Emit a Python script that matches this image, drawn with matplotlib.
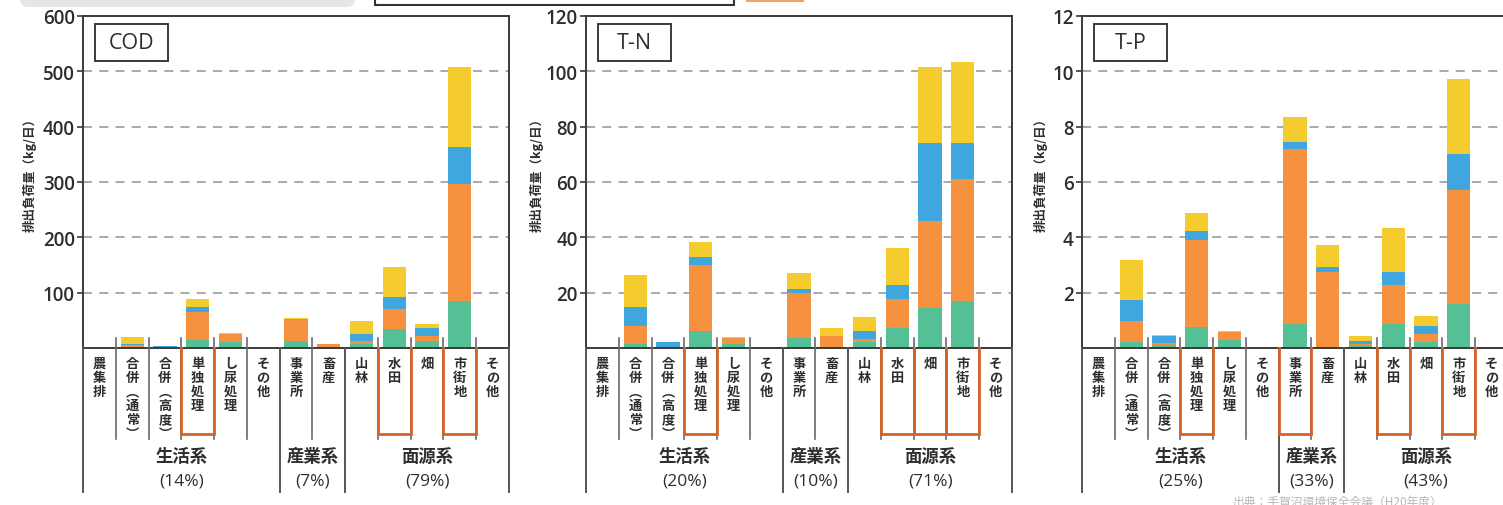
import numpy as np
import matplotlib
matplotlib.use("Agg")
import matplotlib.pyplot as plt
from matplotlib.patches import Rectangle, FancyBboxPatch

plt.rcParams['font.family'] = ['Noto Sans CJK JP', 'DejaVu Sans']

# ---- data -------------------------------------------------------------
categories = ["農集排", "合併（通常）", "合併（高度）", "単独処理", "し尿処理", "その他",
              "事業所", "畜産", "山林", "水田", "畑", "市街地", "その他"]
groups = ["生活系", "産業系", "面源系"]
group_spans = [(0, 6), (6, 8), (8, 13)]

cod_green  = [0, 1, 0.5, 15, 10, 0, 12, 0.0, 8, 35, 12, 85, 0.0]
cod_orange = [0, 4, 0.5, 50, 16, 0, 41, 8.0, 4, 35, 10, 211, 2.0]
cod_blue   = [0, 2, 2.0, 10, 0, 0, 0, 0.0, 14, 22, 14, 67, 0.0]
cod_yellow = [0, 13, 1.0, 13, 2, 0, 2, 0.0, 22, 54, 7, 145, 0.0]
cod_share  = ["(14%)", "(7%)", "(79%)"]
cod_marked = [3, 9, 11]

tn_green  = [0, 1.5, 0.3, 6.3, 1.5, 0, 3.5, 0.3, 2.0, 7.2, 14.3, 17.1, 0.0]
tn_orange = [0, 6.5, 0.2, 23.7, 2.0, 0, 16.4, 4.2, 1.3, 10.5, 31.7, 44.0, 0.5]
tn_blue   = [0, 7.0, 1.8, 2.8, 0.0, 0, 1.4, 0.0, 2.7, 5.1, 28.1, 13.0, 0.0]
tn_yellow = [0, 11.5, 0.0, 5.4, 0.6, 0, 5.8, 2.6, 5.3, 13.3, 27.3, 29.4, 0.0]
tn_share  = ["(20%)", "(10%)", "(71%)"]
tn_marked = [3, 9, 10, 11]

tp_green  = [0, 0.23, 0.12, 0.75, 0.30, 0, 0.87, 0.05, 0.10, 0.87, 0.20, 1.59, 0.0]
tp_orange = [0, 0.76, 0.06, 3.15, 0.28, 0, 6.32, 2.68, 0.05, 1.41, 0.31, 4.13, 0.05]
tp_blue   = [0, 0.74, 0.24, 0.34, 0.00, 0, 0.24, 0.21, 0.12, 0.48, 0.27, 1.29, 0.0]
tp_yellow = [0, 1.45, 0.06, 0.63, 0.05, 0, 0.91, 0.78, 0.15, 1.57, 0.37, 2.71, 0.0]
tp_share  = ["(25%)", "(33%)", "(43%)"]
tp_marked = [3, 6, 9, 11]

# ---- styling ----------------------------------------------------------
W, H = 1503, 506
colors = ["#55bf96", "#f5913f", "#40a6de", "#f5cc2d"]
dark = "#3a3a3a"
text_col = "#2e2e2e"
mark_color = "#d4622a"

fig = plt.figure(figsize=(W / 100, H / 100), dpi=100)

# overlay in pixel coordinates for free-standing decorations
over = fig.add_axes([0, 0, 1, 1], zorder=-5)
over.set_xlim(0, W)
over.set_ylim(H, 0)
over.axis("off")

over.add_patch(FancyBboxPatch((20, -20), 335, 28,
                              boxstyle="round,pad=0,rounding_size=8",
                              fc="#e6e6e6", ec="none"))
over.add_patch(Rectangle((375, -10), 359, 16, fill=False, ec="#333333", lw=1.5))
over.add_patch(Rectangle((746, -10), 58, 13, fc="#f4a060", ec="none"))
over.text(1338, 502, "出典：手賀沼環境保全会議（H20年度）", fontsize=8.5,
          color="#b8b8b8", ha="center", va="center")


def vertical(label):
    return [c.replace("（", "︵").replace("）", "︶") for c in label]


panels = [
    ("COD", 83, 600, 100, [cod_green, cod_orange, cod_blue, cod_yellow],
     cod_share, cod_marked, 30),
    ("T-N", 586, 120, 20, [tn_green, tn_orange, tn_blue, tn_yellow],
     tn_share, tn_marked, 537),
    ("T-P", 1082, 12, 2, [tp_green, tp_orange, tp_blue, tp_yellow],
     tp_share, tp_marked, 1041),
]

AX_TOP, AX_BOT, AX_W = 17, 349, 426
AX_H = AX_BOT - AX_TOP
n = len(categories)
x = np.arange(n) + 0.5


def fy(px_below):
    """axes-fraction y for a distance in pixels below the zero line"""
    return -px_below / AX_H


for name, left, ymax, step, layers, share, marked, ylab_x in panels:
    ax = fig.add_axes([left / W, 1 - AX_BOT / H, AX_W / W, AX_H / H])
    ax.set_xlim(0, n)
    ax.set_ylim(0, ymax)
    ax.set_axisbelow(True)

    bottom = np.zeros(n)
    for vals, col in zip(layers, colors):
        vals = np.asarray(vals, dtype=float)
        ax.bar(x, vals, 0.71, bottom=bottom, color=col, lw=0, zorder=2)
        bottom += vals

    ticks = np.arange(step, ymax + step / 2, step)
    ax.set_yticks(ticks, [f"{t:g}" for t in ticks], fontsize=13.5,
                  fontfamily="Open Sans", fontweight="semibold", color=text_col)
    ax.set_xticks([])
    ax.tick_params(axis="y", direction="out", length=4, width=1.2,
                   color=dark, pad=2)
    ax.yaxis.grid(True, linestyle=(0, (5, 4)), color="#a3a3a3", lw=1.3)
    for s in ax.spines.values():
        s.set_color(dark)
        s.set_linewidth(1.4)

    tr = ax.get_xaxis_transform()
    # separators below the axis
    for i in range(n + 1):
        major = i in (0, 6, 8, n)
        y_end = fy(144) if major else fy(91)
        y_start = 0 if major else 10 / AX_H
        ax.plot([i, i], [y_start, y_end], transform=tr, clip_on=False,
                color="#555555" if major else "#6a6a6a",
                lw=1.4 if major else 1.2, zorder=3)

    # highlighted categories
    for i in marked:
        ax.plot([i, i, i + 1, i + 1], [0, fy(86), fy(86), 0], transform=tr,
                clip_on=False, color=mark_color, lw=2.0, zorder=4,
                solid_joinstyle="miter")

    # category names, written top to bottom
    for i, lab in enumerate(categories):
        for k, ch in enumerate(vertical(lab)):
            ax.text(i + 0.5, fy(15 + 14 * k), ch, transform=tr, ha="center",
                    va="center", fontsize=9.5, fontweight="bold",
                    color=text_col, clip_on=False)

    # group names and shares
    for (a, b), g, sh in zip(group_spans, groups, share):
        cx = (a + b) / 2
        ax.text(cx, fy(108), g, transform=tr, ha="center", va="center",
                fontsize=12.5, fontweight="bold", color=text_col)
        ax.text(cx, fy(133), sh, transform=tr, ha="center", va="center",
                fontsize=12.5, color=text_col,
                fontfamily=["Open Sans", "Noto Sans CJK JP"])

    # panel title box
    bx0, bx1 = 12 / AX_W, 85 / AX_W
    by0, by1 = 1 - 45 / AX_H, 1 - 8 / AX_H
    ax.add_patch(Rectangle((bx0, by0), bx1 - bx0, by1 - by0,
                           transform=ax.transAxes, fill=False, ec=dark, lw=1.4,
                           zorder=5))
    ax.text((bx0 + bx1) / 2, (by0 + by1) / 2, name, transform=ax.transAxes,
            ha="center", va="center", fontsize=15.5, fontfamily="Open Sans",
            color=text_col, zorder=6)

    over.text(ylab_x, 172, "排出負荷量（kg/日）", rotation=90, ha="center",
              va="center", fontsize=9, fontweight="bold", color=text_col)

fig.savefig("out.png", dpi=100)
